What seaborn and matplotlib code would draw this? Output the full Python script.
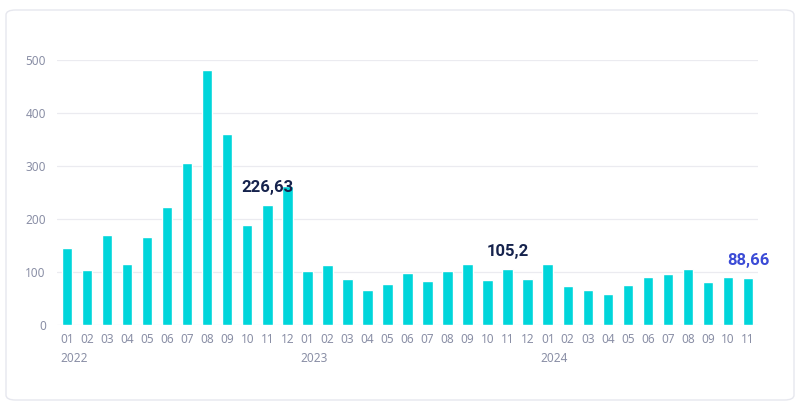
import matplotlib
matplotlib.use("Agg")
import matplotlib.pyplot as plt
from matplotlib.patches import FancyBboxPatch
import seaborn as sns
import pandas as pd

months = ["01","02","03","04","05","06","07","08","09","10","11","12",
          "01","02","03","04","05","06","07","08","09","10","11","12",
          "01","02","03","04","05","06","07","08","09","10","11"]
years = ["2022", "2023", "2024"]
values = [145, 104, 170, 115, 166, 223, 306, 481, 360, 189, 226.63, 262,
          101, 113, 87, 66, 77, 97.5, 83, 101, 116, 85.5, 105.2, 87.5,
          116, 73.6, 66.7, 59, 75, 90.6, 96, 105, 82, 90.6, 88.66]
labels = {10: "226,63", 22: "105,2", 34: "88,66"}

sns.set_theme(style="white")
plt.rcParams['font.family'] = ['Noto Sans', 'DejaVu Sans']

df = pd.DataFrame({"idx": list(range(len(values))), "value": values})

fig = plt.figure(figsize=(8, 4.09), dpi=100)
fig.patch.set_facecolor("white")

bg = fig.add_axes([0, 0, 1, 1], zorder=-10)
bg.set_axis_off()
bg.set_xlim(0, 1)
bg.set_ylim(0, 1)
card = FancyBboxPatch((6/800, 9/409), 788/800, 390/409,
                      boxstyle="round,pad=0,rounding_size=0.012",
                      transform=bg.transAxes, facecolor="white",
                      edgecolor="#e6e7ee", linewidth=1.0)
bg.add_patch(card)

ax = fig.add_axes([57/800, 84/409, 701/800, 265/409], zorder=1)
ax.set_facecolor("none")
sns.barplot(data=df, x="idx", y="value", color="#00d5da", width=0.52,
            saturation=1, ax=ax, zorder=3)

ax.set_xlim(-0.5, len(values) - 0.5)
ax.set_ylim(0, 500)
ax.set_yticks([0, 100, 200, 300, 400, 500])
ax.set_yticklabels(["0", "100", "200", "300", "400", "500"])
ax.set_xticks(range(len(values)))
ax.set_xticklabels(months)
ax.tick_params(axis="both", length=0, labelsize=8.5, colors="#8a8fa6")
ax.tick_params(axis="y", pad=8)
ax.tick_params(axis="x", pad=6)
ax.set_xlabel("")
ax.set_ylabel("")
for s in ax.spines.values():
    s.set_visible(False)
ax.grid(axis="y", color="#ebebf0", linewidth=0.9, zorder=0)
ax.set_axisbelow(True)

trans = ax.get_xaxis_transform()
for i, y in enumerate(years):
    ax.text(i * 12 - 0.35, -0.128, y, transform=trans, ha="left", va="center",
            fontsize=8.5, color="#8a8fa6")

for i, t in labels.items():
    col = "#3b4bd6" if i == len(values) - 1 else "#16234d"
    ax.annotate(t, (i, values[i]), xytext=(0, 9.5), textcoords="offset points",
                ha="center", va="baseline", fontsize=12, fontweight="bold",
                fontstretch="normal", family=["Roboto", "DejaVu Sans"],
                color=col, zorder=5)

fig.savefig("out.png", dpi=100)
